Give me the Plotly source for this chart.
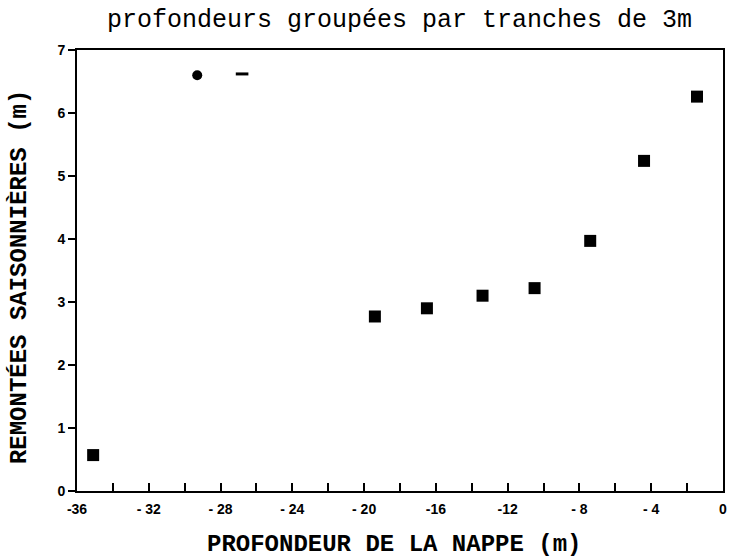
import plotly.graph_objects as go

# data
x_squares = [-35.1, -19.4, -16.5, -13.4, -10.5, -7.4, -4.4, -1.45]
y_squares = [0.57, 2.77, 2.90, 3.10, 3.22, 3.97, 5.24, 6.26]
x_circle = [-29.3]
y_circle = [6.6]
x_dash = [-26.8]
y_dash = [6.62]

x_tickvals = [-36, -32, -28, -24, -20, -16, -12, -8, -4, 0]
x_ticktext = ["-36", "- 32", "- 28", "- 24", "- 20", "-16", "-12", "- 8", "- 4", "0"]
y_tickvals = [0, 1, 2, 3, 4, 5, 6, 7]

title_text = "profondeurs groupées par tranches de 3m"
xlabel_text = "PROFONDEUR DE LA NAPPE (m)"
ylabel_text = "REMONTÉES SAISONNIÈRES (m)"

mono = "Courier New, Liberation Mono, DejaVu Sans Mono, monospace"
tickfont = dict(family="Liberation Sans Narrow, Liberation Sans, Arial", size=14, color="black", weight="bold")

fig = go.Figure()
fig.add_trace(go.Scatter(x=x_squares, y=y_squares, mode="markers",
                         marker=dict(symbol="square", size=12, color="black"),
                         showlegend=False))
fig.add_trace(go.Scatter(x=x_circle, y=y_circle, mode="markers",
                         marker=dict(symbol="circle", size=10, color="black"),
                         showlegend=False))
fig.add_trace(go.Scatter(x=x_dash, y=y_dash, mode="markers",
                         marker=dict(symbol="line-ew", size=9, color="black",
                                     line=dict(width=3, color="black")),
                         showlegend=False))

fig.update_layout(
    width=733, height=559,
    margin=dict(l=77, r=6, t=50, b=68),
    paper_bgcolor="white", plot_bgcolor="white",
    annotations=[
        dict(text=title_text, xref="paper", yref="paper", x=0.4985, y=1.0, yshift=30,
             xanchor="center", yanchor="middle", showarrow=False,
             font=dict(family=mono, size=25, color="black")),
        dict(text=xlabel_text, xref="paper", yref="paper", x=0.491, y=0.0, yshift=-53,
             xanchor="center", yanchor="middle", showarrow=False, borderpad=0,
             font=dict(family=mono, size=24, color="black", weight="bold")),
        dict(text=ylabel_text, xref="paper", yref="paper", x=0.0, xshift=-58, y=0.485,
             xanchor="center", yanchor="middle", showarrow=False, textangle=-90,
             font=dict(family=mono, size=24, color="black", weight="bold")),
    ],
    xaxis=dict(range=[-36, 0], tickvals=x_tickvals, ticktext=x_ticktext,
               ticks="inside", ticklen=8, tickwidth=2, tickcolor="black",
               minor=dict(dtick=2, tick0=0, ticks="inside", ticklen=8, tickwidth=2, tickcolor="black"),
               showline=True, linecolor="black", linewidth=2, mirror=True,
               showgrid=False, zeroline=False, tickfont=tickfont, ticklabelstandoff=4),
    yaxis=dict(range=[0, 7], tickvals=y_tickvals,
               ticks="outside", ticklen=7, tickwidth=2, tickcolor="black",
               showline=True, linecolor="black", linewidth=2, mirror=True,
               showgrid=False, zeroline=False, tickfont=tickfont),
)

# remove the browser's default 8px body margin so the figure fills the window
fig.write_html("out.html", config={"displayModeBar": False},
               post_script="document.body.style.margin='0';")
